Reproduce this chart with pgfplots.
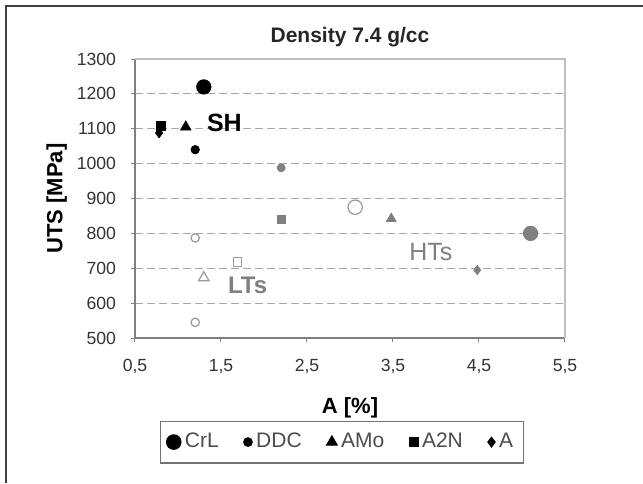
\documentclass[border=0pt]{standalone}
\usepackage{pgfplots}
\pgfplotsset{compat=1.18}
\usepackage{fontspec}
\setmainfont{Liberation Sans}
\definecolor{midgray}{HTML}{808080}
\definecolor{opengray}{HTML}{9A9A9A}
\definecolor{gridgray}{HTML}{A8A8A8}
\definecolor{ticktext}{HTML}{333333}
\begin{document}
\begin{tikzpicture}[x=0.5pt,y=-0.5pt]
\path[use as bounding box] (0,0) rectangle (643,483);
\draw[line width=0.8pt,color=black!75] (6,483) -- (6,6) -- (643,6);
\begin{axis}[
  at={(67.5pt,-169pt)}, anchor=south west,
  scale only axis, width=215pt, height=139.5pt,
  xmin=0.5, xmax=5.5, ymin=500, ymax=1300,
  xtick={0.5,1.5,...,5.5}, ytick={500,600,...,1300},
  /pgf/number format/assume math mode=true,
  xticklabel style={/pgf/number format/use comma,/pgf/number format/fixed,/pgf/number format/fixed zerofill,/pgf/number format/precision=1, yshift=-5pt},
  yticklabel style={/pgf/number format/fixed,/pgf/number format/1000 sep={}, xshift=-4pt},
  ticklabel style={font=\fontsize{8.8}{10}\selectfont, color=ticktext},
  tick align=outside, major tick length=2pt,
  tick style={color=midgray, line width=0.5pt},
  axis x line*=bottom, axis y line*=left,
  axis line style={color=midgray, line width=0.6pt, -},
  ymajorgrids, grid style={color=gridgray, dash pattern=on 4pt off 2pt, line width=0.5pt},
  xlabel={A [\%]}, ylabel={UTS [MPa]},
  label style={font=\fontsize{11}{13}\selectfont\bfseries},
  xlabel style={yshift=-5pt},
  ylabel style={yshift=-2pt},
  clip=false,
  legend columns=5,
  legend style={at={(0.481,-0.373)}, anchor=center, draw=black!55, line width=0.6pt,
    font=\fontsize{10.5}{12}\selectfont, text=black!70, inner xsep=3pt, inner ysep=4pt,
    /tikz/every even column/.append style={column sep=10.5pt}},
  legend cell align=left,
]
% top and right light border
\draw[color=black!25, line width=0.6pt] (rel axis cs:0,1) -- (rel axis cs:1,1) -- (rel axis cs:1,0);
% black series (legend)
\addplot[only marks, mark=*, mark size=3.6pt, color=black] coordinates {(1.3,1220)};
\addlegendentry{CrL}
\addplot[only marks, mark=*, mark size=2.1pt, color=black] coordinates {(1.2,1040)};
\addlegendentry{DDC}
\addplot[only marks, mark=triangle*, mark size=3pt, color=black] coordinates {(1.09,1105)};
\addlegendentry{AMo}
\addplot[only marks, mark=square*, mark size=2.2pt, color=black] coordinates {(0.8,1108)};
\addlegendentry{A2N}
\addplot[only marks, mark=diamond*, mark size=2.4pt, color=black] coordinates {(0.78,1088)};
\addlegendentry{A}
% gray series
\addplot[forget plot, only marks, mark=*, mark size=3.6pt, color=midgray] coordinates {(5.1,800)};
\addplot[forget plot, only marks, mark=*, mark size=2pt, color=midgray] coordinates {(2.2,988)};
\addplot[forget plot, only marks, mark=triangle*, mark size=2.8pt, color=midgray] coordinates {(3.48,842)};
\addplot[forget plot, only marks, mark=square*, mark size=2.1pt, color=midgray] coordinates {(2.2,840)};
\addplot[forget plot, only marks, mark=diamond*, mark size=2.3pt, color=midgray] coordinates {(4.48,695)};
% open series
\addplot[forget plot, only marks, mark=*, mark size=3.6pt, color=opengray, fill=white, line width=0.6pt] coordinates {(3.06,875)};
\addplot[forget plot, only marks, mark=*, mark size=2.1pt, color=opengray, fill=white, line width=0.6pt] coordinates {(1.2,787)};
\addplot[forget plot, only marks, mark=triangle*, mark size=3pt, color=opengray, fill=white, line width=0.6pt] coordinates {(1.3,673)};
\addplot[forget plot, only marks, mark=square*, mark size=2.1pt, color=opengray, fill=white, line width=0.6pt] coordinates {(1.69,718)};
\addplot[forget plot, only marks, mark=*, mark size=2.1pt, color=opengray, fill=white, line width=0.6pt] coordinates {(1.2,545)};
% annotations
\node[font=\fontsize{12.5}{14}\selectfont\bfseries] at (axis cs:1.54,1117) {SH};
\node[font=\fontsize{12}{14}\selectfont\bfseries, color=black!50] at (axis cs:1.81,650) {LTs};
\node[font=\fontsize{12.5}{14}\selectfont, color=black!50] at (axis cs:3.94,747) {HTs};
\node[font=\fontsize{10.5}{12}\selectfont\bfseries, color=black!85] at (rel axis cs:0.5,1) [yshift=11pt] {Density 7.4 g/cc};
\end{axis}
\end{tikzpicture}
\end{document}
